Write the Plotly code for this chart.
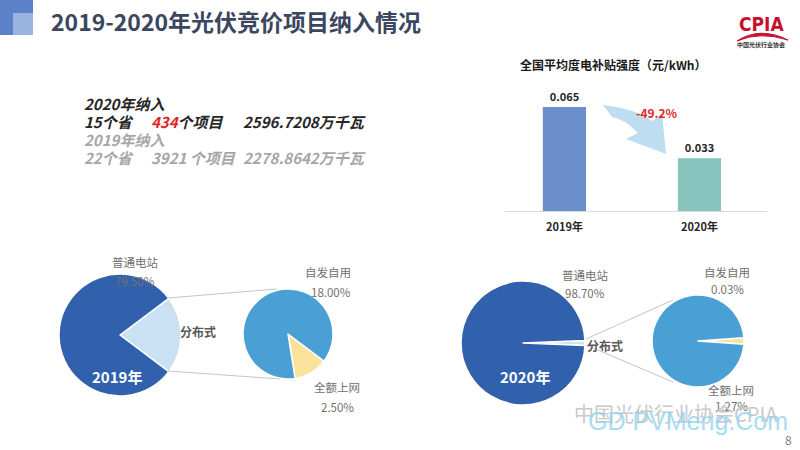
import plotly.graph_objects as go

# ---------------- data ----------------
bar_years = ["2019年", "2020年"]
subsidy = [0.065, 0.033]
change_label = "-49.2%"

pie_names = ["分布式", "普通电站"]
share_2019 = [20.50, 79.50]
share_2020 = [1.30, 98.70]

sub_names_2019 = ["全额上网", "自发自用"]
sub_2019 = [2.50, 18.00]
sub_names_2020 = ["自发自用", "全额上网"]
sub_2020 = [0.03, 1.27]

summary_2020 = ["2020年纳入", "15个省", "434", "个项目", "2596.7208万千瓦"]
summary_2019 = ["2019年纳入", "22个省", "3921 个项目", "2278.8642万千瓦"]

W, H = 800, 450
FONT = "Noto Sans CJK SC"


def px(x):
    return x / W


def py(y):
    return 1 - y / H


fig = go.Figure()

# ---------------- bar chart ----------------
fig.add_trace(go.Bar(
    x=bar_years, y=subsidy,
    marker=dict(color=["#6a8fcb", "#86c4bd"], line=dict(width=0)),
    width=0.32,
    text=[f"<b>{v:.3f}</b>" for v in subsidy],
    textposition="outside", cliponaxis=False,
    textfont=dict(family=FONT, size=11, color="#262626"),
    xaxis="x", yaxis="y", showlegend=False, hoverinfo="skip",
))

# ---------------- pies ----------------
def pie(values, names, colors, cx, cy, r, rotation):
    return go.Pie(
        values=values, labels=names, sort=False, direction="clockwise",
        rotation=rotation, textinfo="none", hoverinfo="skip",
        marker=dict(colors=colors, line=dict(color="white", width=1.5)),
        domain=dict(x=[px(cx - r), px(cx + r)], y=[py(cy + r), py(cy - r)]),
        showlegend=False,
    )

fig.add_trace(pie(share_2019, pie_names, ["#c9e1f2", "#3161ad"], 120, 335, 61,
                  90 - share_2019[0] / 100 * 180))
fig.add_trace(pie(sub_2019, sub_names_2019, ["#fbe29a", "#4aa0d5"], 288, 334, 45,
                  127))
fig.add_trace(pie(share_2020, pie_names, ["#cfe6ea", "#3161ad"], 523, 343, 62,
                  90 - share_2020[0] / 100 * 180))
fig.add_trace(pie(sub_2020, sub_names_2020, ["#fbe29a", "#4aa0d5"], 698, 341, 46,
                  90 - sub_2020[0] / sum(sub_2020) * 180))

shapes = []
annotations = []

# decoration squares
shapes.append(dict(type="rect", xref="paper", yref="paper", x0=0, x1=px(33),
                   y0=py(35), y1=1, fillcolor="#5b82c6", line_width=0, layer="below"))
shapes.append(dict(type="rect", xref="paper", yref="paper", x0=px(13), x1=px(33),
                   y0=py(35), y1=py(13), fillcolor="#9bb3e0", line_width=0, layer="below"))

# connector lines
for (x0, y0, x1, y1) in [(168, 298, 277, 289), (168, 371, 280, 379),
                         (586, 339, 673, 300), (586, 345, 673, 382)]:
    shapes.append(dict(type="line", xref="paper", yref="paper",
                       x0=px(x0), y0=py(y0), x1=px(x1), y1=py(y1),
                       line=dict(color="#c4c4c4", width=1)))

# arrow (decorative)
def P(x, y):
    return f"{px(x):.5f},{py(y):.5f}"

arrow_path = (f"M {P(603,105)} Q {P(637,109)} {P(652,121)} L {P(662,114)} "
              f"L {P(666,154)} L {P(626,139)} L {P(638,133)} "
              f"Q {P(626,120)} {P(612,117)} Z")
shapes.append(dict(type="path", xref="paper", yref="paper", path=arrow_path,
                   fillcolor="rgba(170,210,235,0.75)", line=dict(width=0)))

# logo arc
shapes.append(dict(type="path", xref="paper", yref="paper",
                   path=f"M {P(737,41)} Q {P(760,26)} {P(788,40)} Q {P(760,31)} {P(737,41)} Z",
                   fillcolor="#c8102e", line=dict(color="#c8102e", width=1)))


def ann(x, y, text, size, color, xanchor="center", bold=False, italic=False,
        family=FONT, opacity=1.0):
    t = text
    if bold:
        t = f"<b>{t}</b>"
    if italic:
        t = f"<i>{t}</i>"
    annotations.append(dict(x=px(x), y=py(y), xref="paper", yref="paper", text=t,
                            showarrow=False, xanchor=xanchor, yanchor="middle",
                            font=dict(family=family, size=size, color=color),
                            opacity=opacity))


# title
ann(49, 21, "2019-2020年光伏竞价项目纳入情况", 23, "#3b4660", xanchor="left", bold=True)
# logo
ann(761, 24, "CPIA", 19, "#c8102e", bold=True,
    family="DejaVu Sans Condensed, Roboto Condensed, Liberation Sans")
ann(761, 45, "中国光伏行业协会", 6, "#333333", bold=True)

# summary block
ann(82, 103, summary_2020[0], 15, "#262626", "left", True, True)
ann(82, 121, summary_2020[1], 15, "#262626", "left", True, True)
ann(149, 121, f"<span style='color:#e0262b'>{summary_2020[2]}</span>{summary_2020[3]}",
    15, "#262626", "left", True, True)
ann(241, 121, summary_2020[4], 15, "#262626", "left", True, True)
ann(82, 139, summary_2019[0], 15, "#a6a6a6", "left", True, True)
ann(82, 157, summary_2019[1], 15, "#a6a6a6", "left", True, True)
ann(149, 157, summary_2019[2], 15, "#a6a6a6", "left", True, True)
ann(241, 157, summary_2019[3], 15, "#a6a6a6", "left", True, True)

# bar chart title and change label
ann(613, 64, "全国平均度电补贴强度（元/kWh）", 12, "#1a1a1a", bold=True)
ann(657, 113, change_label, 12, "#e0262b", bold=True)

# pie labels 2019
LBL = "#707070"
ann(135, 262, pie_names[1], 11.5, LBL)
ann(135, 281, f"{share_2019[1]:.2f}%", 11.5, LBL)
ann(198, 331, pie_names[0], 12, "#595959", bold=True)
ann(328, 272, sub_names_2019[1], 11.5, LBL)
ann(331, 292, f"{sub_2019[1]:.2f}%", 11.5, LBL)
ann(337, 387, sub_names_2019[0], 11.5, LBL)
ann(337, 407, f"{sub_2019[0]:.2f}%", 11.5, LBL)
ann(117, 376, "2019年", 15, "white", bold=True)

# pie labels 2020
ann(585, 275, pie_names[1], 11.5, LBL)
ann(585, 293, f"{share_2020[1]:.2f}%", 11.5, LBL)
ann(605, 345, pie_names[0], 12, "#595959", bold=True)
ann(727, 272, sub_names_2020[0], 11.5, LBL)
ann(727, 289, f"{sub_2020[0]:.2f}%", 11.5, LBL)
ann(731, 390, sub_names_2020[1], 11.5, LBL)
ann(731, 406, f"{sub_2020[1]:.2f}%", 11.5, LBL)
ann(525, 376, "2020年", 15, "white", bold=True)

# watermark
ann(676, 413, "中国光伏行业协会CPIA", 20, "#c4c4c4", opacity=0.9)
ann(688, 421, "GD PVMeng.Com", 25, "#8fd6f2", family="Liberation Sans", opacity=0.8)
ann(788, 439, "8", 12, "#808080")

fig.update_layout(
    width=W, height=H, margin=dict(l=0, r=0, t=0, b=0),
    paper_bgcolor="white", plot_bgcolor="white",
    font=dict(family=FONT),
    xaxis=dict(domain=[px(505), px(767)], range=[-0.44, 1.5], type="category",
               showline=True, linecolor="#d9d9d9", linewidth=1, ticks="",
               showgrid=False, zeroline=False,
               tickfont=dict(family=FONT, size=11, color="#262626"),
               ticklabelstandoff=6,
               tickvals=bar_years, ticktext=[f"<b>{y}</b>" for y in bar_years],
               anchor="y"),
    yaxis=dict(domain=[py(211), py(75)], range=[0, 0.085], visible=False,
               showgrid=False, zeroline=False, anchor="x"),
    shapes=shapes, annotations=annotations,
)

fig.write_html("out.html")
